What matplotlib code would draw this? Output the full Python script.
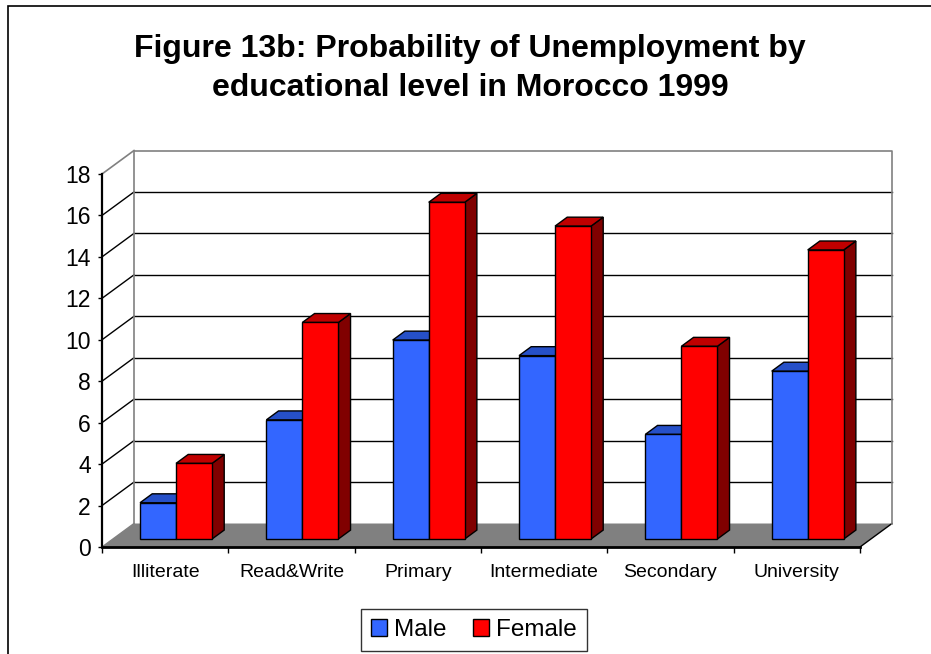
import matplotlib.pyplot as plt
from matplotlib.patches import Polygon, Patch, Rectangle

plt.rcParams['font.family'] = ['Liberation Sans', 'DejaVu Sans']

categories = ["Illiterate", "Read&Write", "Primary", "Intermediate", "Secondary", "University"]
male = [1.75, 5.75, 9.6, 8.85, 5.05, 8.1]
female = [3.65, 10.45, 16.25, 15.1, 9.3, 13.95]
yticks = [0, 2, 4, 6, 8, 10, 12, 14, 16, 18]
title_lines = ["Figure 13b: Probability of Unemployment by", "educational level in Morocco 1999"]

W, H = 931, 654
fig = plt.figure(figsize=(W / 100, H / 100), dpi=100)

# pixel layout of the plot box
x0_px, y0_px = 102, 547
xppu = (860 - 102) / 6
yppu = (547 - 174) / 18
L_px, R_px, T_px, B_px = 80, 905, 140, 562
ax = fig.add_axes([L_px / W, 1 - B_px / H, (R_px - L_px) / W, (B_px - T_px) / H])
ax.set_xlim((L_px - x0_px) / xppu, (R_px - x0_px) / xppu)
ax.set_ylim((y0_px - B_px) / yppu, (y0_px - T_px) / yppu)
ax.patch.set_alpha(0)

# oblique depth offset in data units
DX = 32 / xppu
DY = 23.5 / yppu
n = len(categories)
ymax = yticks[-1]


def proj(x, y, d):
    return (x + d * DX, y + d * DY)


# floor
floor = Polygon([proj(0, 0, 0), proj(n, 0, 0), proj(n, 0, 1), proj(0, 0, 1)],
                closed=True, facecolor="#808080", edgecolor="none", zorder=1)
ax.add_patch(floor)
ax.plot(*zip(proj(n, 0, 0), proj(n, 0, 1)), color="black", lw=1, zorder=2)
ax.plot(*zip(proj(0, 0, 0), proj(0, 0, 1)), color="#808080", lw=1, zorder=2)

# gridlines on back and left walls
for t in yticks[1:-1]:
    ax.plot(*zip(proj(0, t, 1), proj(n, t, 1)), color="black", lw=1, zorder=2)
    ax.plot(*zip(proj(0, t, 0), proj(0, t, 1)), color="black", lw=1, zorder=2)
# wall outline
ax.plot(*zip(proj(0, 0, 1), proj(0, ymax, 1), proj(n, ymax, 1), proj(n, 0, 1)),
        color="#808080", lw=1.2, zorder=2)
ax.plot(*zip(proj(0, ymax, 0), proj(0, ymax, 1)), color="#808080", lw=1.2, zorder=2)

# 3D bars
bw = 0.285
f0, f1 = 0.34, 0.72
series = [(male, "#3366FF", "#2650C8", "#1A3A99"),
          (female, "#FF0000", "#C00000", "#800000")]
for i in range(n):
    for k, (vals, c_front, c_top, c_side) in enumerate(series):
        v = vals[i]
        xa = i + 0.5 - bw + k * bw
        xb = xa + bw
        front = [proj(xa, 0, f0), proj(xb, 0, f0), proj(xb, v, f0), proj(xa, v, f0)]
        top = [proj(xa, v, f0), proj(xb, v, f0), proj(xb, v, f1), proj(xa, v, f1)]
        side = [proj(xb, 0, f0), proj(xb, 0, f1), proj(xb, v, f1), proj(xb, v, f0)]
        z = 5 + i * 2 + k
        ax.add_patch(Polygon(side, closed=True, facecolor=c_side, edgecolor="black", lw=1, zorder=z))
        ax.add_patch(Polygon(top, closed=True, facecolor=c_top, edgecolor="black", lw=1, zorder=z))
        ax.add_patch(Polygon(front, closed=True, facecolor=c_front, edgecolor="black", lw=1, zorder=z))

# front axes
for s in ["top", "right"]:
    ax.spines[s].set_visible(False)
ax.spines["left"].set_position(("data", 0))
ax.spines["bottom"].set_position(("data", 0))
ax.spines["left"].set_bounds(0, ymax)
ax.spines["bottom"].set_bounds(0, n)
ax.spines["left"].set_linewidth(1.6)
ax.spines["bottom"].set_linewidth(2)
ax.spines["left"].set_zorder(30)
ax.spines["bottom"].set_zorder(30)

ax.set_yticks(yticks)
ax.set_yticklabels([str(t) for t in yticks])
ax.tick_params(axis="y", direction="out", length=3, width=1, labelsize=16.5, pad=5)
ax.set_xticks(range(n + 1))
ax.set_xticklabels([])
ax.tick_params(axis="x", which="major", direction="out", length=4, width=1)
ax.set_xticks([i + 0.5 for i in range(n)], minor=True)
ax.set_xticklabels(categories, minor=True)
ax.tick_params(axis="x", which="minor", length=0, labelsize=14, pad=12)

# title
fig.text(470 / W, 1 - 49 / H, title_lines[0], ha="center", va="center",
         fontsize=23, fontweight="bold")
fig.text(470 / W, 1 - 88 / H, title_lines[1], ha="center", va="center",
         fontsize=23, fontweight="bold")

# legend
handles = [Patch(facecolor=series[0][1], edgecolor="black", label="Male"),
           Patch(facecolor=series[1][1], edgecolor="black", label="Female")]
leg = fig.legend(handles=handles, loc="center", bbox_to_anchor=(474 / W, 1 - 630 / H),
                 ncol=2, fontsize=17.5, frameon=True, fancybox=False,
                 handlelength=0.65, handleheight=0.65, handletextpad=0.3,
                 columnspacing=1.1, borderpad=0.4, borderaxespad=0)
leg.get_frame().set_edgecolor("black")
leg.get_frame().set_linewidth(1)

# outer chart border (cut at right and bottom)
fig.add_artist(Rectangle((8 / W, -0.1), 1.0, 1.1 - 6 / H, transform=fig.transFigure,
                         fill=False, edgecolor="black", lw=1.2))

fig.savefig("out.png", dpi=100)
